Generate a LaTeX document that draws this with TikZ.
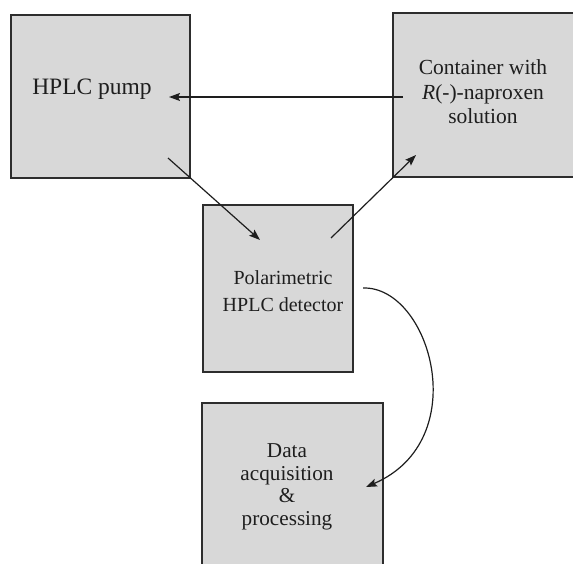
\documentclass[tikz,border=0pt]{standalone}
\usepackage{fontspec}
\setmainfont{Liberation Serif}
\usetikzlibrary{arrows.meta}
\definecolor{boxfill}{RGB}{216,216,216}
\definecolor{boxline}{RGB}{45,45,45}
\definecolor{inkc}{RGB}{30,30,30}
\tikzset{
  unitbox/.style={draw=boxline, fill=boxfill, line width=1.3pt, inner sep=0pt, outer sep=0pt},
  boxtext/.style={align=center, text=inkc, inner sep=0pt},
  flow/.style={draw=inkc, line width=1.2pt, -{Stealth[length=11pt,width=8pt,inset=2pt]}}
}
\begin{document}
\begin{tikzpicture}[x=1pt,y=-1pt]
\useasboundingbox (0,0) rectangle (573,564);

% the four units
\node[unitbox, minimum width=179pt, minimum height=163pt] (pump) at (100.5,96.5) {};
\node[unitbox, minimum width=187pt, minimum height=164pt] (cont) at (486.5,95) {};
\node[unitbox, minimum width=150pt, minimum height=167pt] (det)  at (278,288.5) {};
\node[unitbox, minimum width=181pt, minimum height=172pt] (daq)  at (292.5,489) {};

% labels
\node[boxtext, font=\fontsize{23.5}{28}\selectfont] (pumptxt) at (92,89) {HPLC pump};
\node[boxtext, font=\fontsize{21.5}{24.5}\selectfont] (conttxt) at (483,92) {Container with\\\textit{R}(-)-naproxen\\solution};
\node[boxtext, font=\fontsize{20}{27}\selectfont] (dettxt)  at (283,291) {Polarimetric\\HPLC detector};
\node[boxtext, font=\fontsize{21.2}{22.5}\selectfont] (daqtxt) at (287,487) {Data\\acquisition\\\&\\processing};

% arrow end points inside the units
\coordinate (contOut) at (403,97);
\coordinate (pumpIn)  at (169,97);
\coordinate (pumpOut) at (168,158);
\coordinate (detIn)   at (260,240);
\coordinate (detOut)  at (331,238);
\coordinate (contIn)  at (416,155);
\coordinate (detSig)  at (363,288);
\coordinate (daqIn)   at (366,487);

% flow connections
\draw[flow] (contOut) -- (pumpIn);
\draw[flow] (pumpOut) -- (detIn);
\draw[flow] (detOut) -- (contIn);
\draw[flow] (detSig) .. controls (430,286) and (475,440) .. (daqIn);
\end{tikzpicture}
\end{document}
